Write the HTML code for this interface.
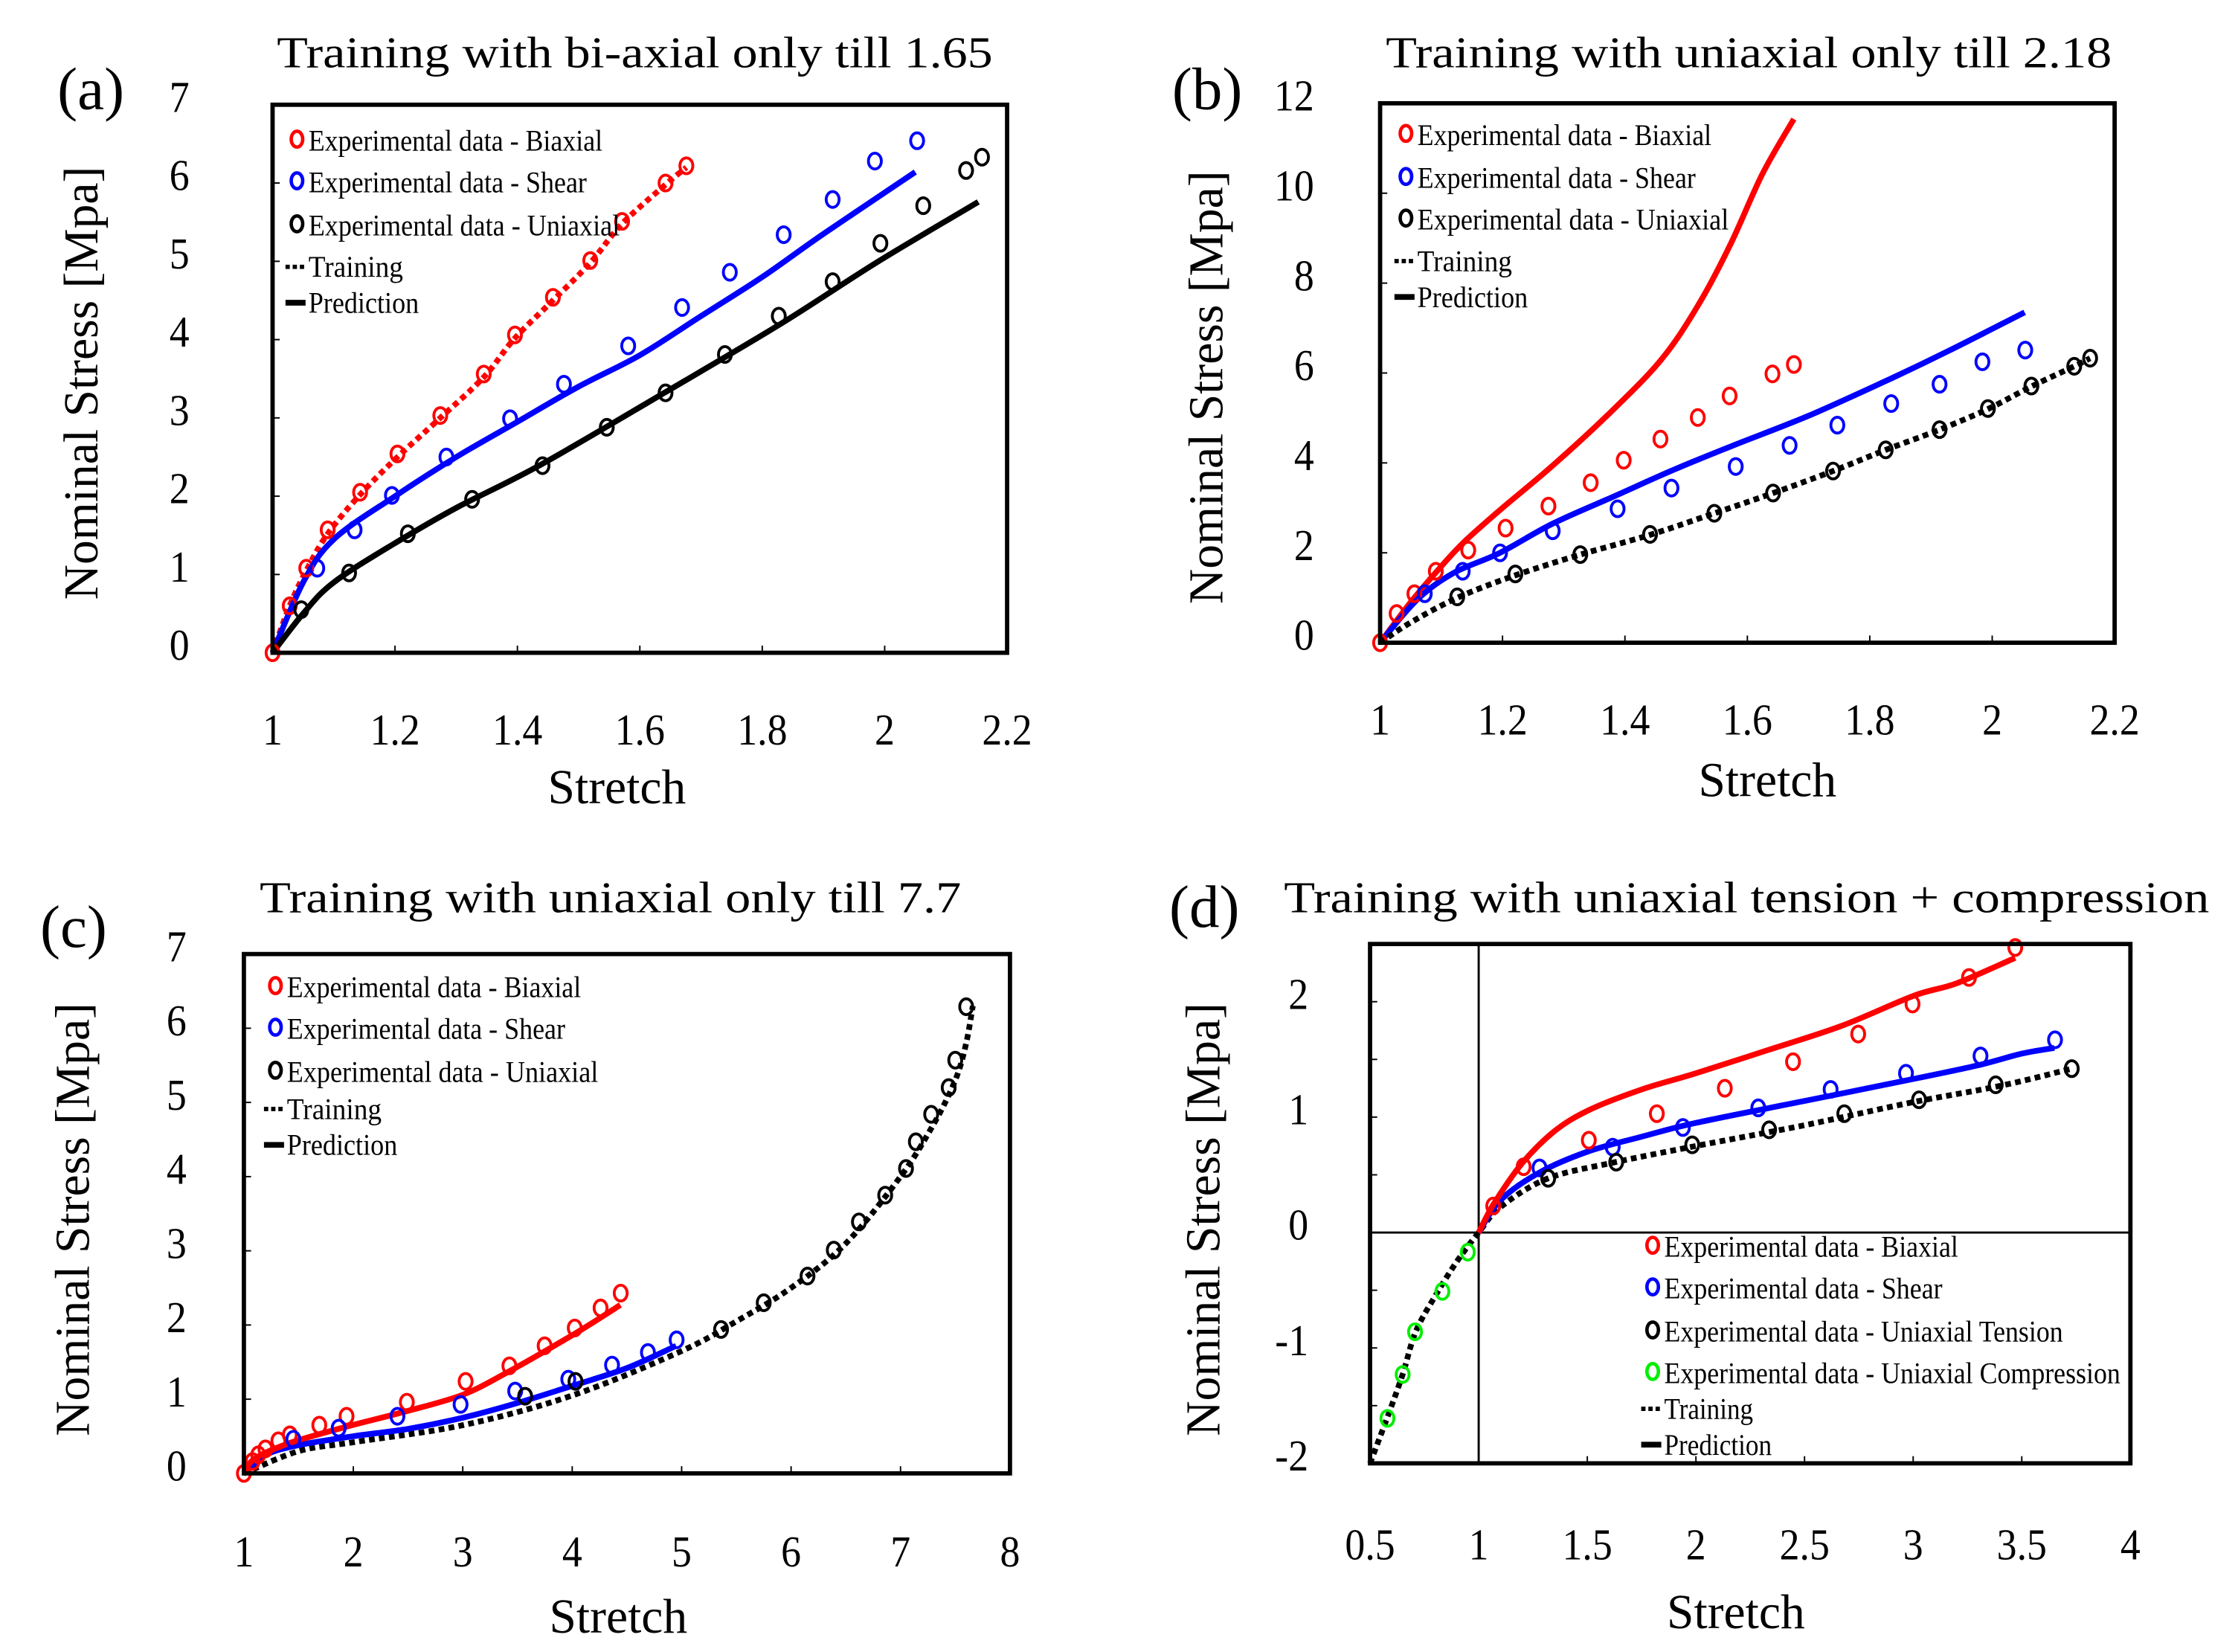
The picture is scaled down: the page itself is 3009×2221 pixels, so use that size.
<!DOCTYPE html>
<html><head><meta charset="utf-8"><style>
html,body{margin:0;padding:0;background:#fff;}
svg{display:block;font-family:"Liberation Serif",serif;}
</style></head><body>
<svg id="fig" width="3009" height="2221" viewBox="0 0 1560 1151.5" preserveAspectRatio="none" xmlns="http://www.w3.org/2000/svg"></svg>
<script>
// ---------- Panel (a) data ----------
const aBiaxX=[1,1.028,1.055,1.09,1.143,1.204,1.274,1.345,1.396,1.458,1.519,1.571,1.642,1.676];
const aBiaxY=[0,0.6,1.08,1.57,2.05,2.54,3.03,3.56,4.06,4.54,5.01,5.51,6.0,6.22];
const aShearX=[1.073,1.134,1.195,1.284,1.388,1.476,1.581,1.669,1.747,1.835,1.915,1.984,2.053];
const aShearY=[1.08,1.57,2.01,2.5,2.99,3.43,3.92,4.41,4.86,5.34,5.79,6.28,6.54];
const aUniX=[1.047,1.125,1.221,1.326,1.441,1.546,1.642,1.739,1.827,1.915,1.993,2.063,2.133,2.159];
const aUniY=[0.55,1.02,1.52,1.96,2.39,2.88,3.32,3.81,4.3,4.74,5.23,5.71,6.16,6.33];
const aBiaxTrainX=[1,1.028,1.055,1.09,1.143,1.204,1.274,1.345,1.396,1.458,1.519,1.571,1.642,1.676];
const aBiaxTrainY=[0,0.6,1.05,1.52,2.02,2.5,3.0,3.52,4.02,4.5,4.98,5.48,5.98,6.2];
const aShearPredX=[1,1.05,1.1,1.2,1.3,1.4,1.5,1.6,1.7,1.8,1.9,2.05];
const aShearPredY=[0,0.9,1.45,2.0,2.5,2.95,3.4,3.8,4.3,4.8,5.35,6.14];
const aUniPredX=[1,1.05,1.1,1.2,1.3,1.44,1.64,1.83,1.99,2.153];
const aUniPredY=[0,0.5,0.9,1.4,1.85,2.41,3.32,4.2,5.0,5.76];
const aXTicks=[1,1.2,1.4,1.6,1.8,2,2.2];
const aXTickLabels=["1","1.2","1.4","1.6","1.8","2","2.2"];
const aYTicks=[0,1,2,3,4,5,6,7];
const aYTickLabels=["0","1","2","3","4","5","6","7"];
// ---------- Panel (b) data ----------
const bBiaxX=[1,1.027,1.056,1.091,1.144,1.205,1.275,1.344,1.398,1.458,1.519,1.571,1.641,1.676];
const bBiaxY=[0,0.65,1.09,1.59,2.06,2.55,3.04,3.56,4.06,4.53,5.01,5.49,5.98,6.19];
const bShearX=[1.073,1.135,1.196,1.282,1.388,1.476,1.581,1.669,1.747,1.835,1.914,1.984,2.054];
const bShearY=[1.09,1.59,2.0,2.49,2.98,3.44,3.92,4.39,4.84,5.32,5.75,6.25,6.51];
const bUniX=[1.126,1.221,1.327,1.441,1.546,1.642,1.74,1.826,1.914,1.993,2.064,2.134,2.16];
const bUniY=[1.02,1.53,1.96,2.41,2.88,3.33,3.82,4.29,4.74,5.21,5.71,6.15,6.33];
const bBiaxPredX=[1,1.05,1.1,1.141,1.2,1.282,1.376,1.459,1.518,1.571,1.624,1.676];
const bBiaxPredY=[0,0.9,1.7,2.29,3.0,3.94,5.12,6.29,7.47,8.82,10.41,11.65];
const bShearPredX=[1,1.06,1.12,1.196,1.282,1.388,1.48,1.581,1.7,1.835,1.93,2.053];
const bShearPredY=[0,0.95,1.55,2.0,2.65,3.29,3.85,4.41,5.05,5.88,6.5,7.35];
const bUniTrainX=[1,1.05,1.126,1.221,1.327,1.441,1.546,1.642,1.74,1.826,1.914,1.993,2.064,2.134,2.16];
const bUniTrainY=[0,0.45,1.0,1.5,1.96,2.4,2.88,3.33,3.82,4.29,4.74,5.2,5.7,6.15,6.33];
const bXTicks=[1,1.2,1.4,1.6,1.8,2,2.2];
const bXTickLabels=["1","1.2","1.4","1.6","1.8","2","2.2"];
const bYTicks=[0,2,4,6,8,10,12];
const bYTickLabels=["0","2","4","6","8","10","12"];
// ---------- Panel (c) data ----------
const cBiaxX=[1,1.079,1.131,1.197,1.315,1.42,1.689,1.938,2.489,3.026,3.426,3.748,4.023,4.259,4.443];
const cBiaxY=[0,0.16,0.25,0.33,0.44,0.52,0.65,0.77,0.96,1.24,1.45,1.72,1.96,2.23,2.43];
const cShearX=[1.452,1.866,2.403,2.98,3.479,3.964,4.364,4.692,4.954];
const cShearY=[0.46,0.61,0.77,0.93,1.11,1.27,1.46,1.63,1.8];
const cUniX=[3.57,4.03,5.36,5.75,6.15,6.39,6.62,6.86,7.05,7.14,7.28,7.44,7.5,7.6];
const cUniY=[1.04,1.24,1.94,2.3,2.66,3.01,3.39,3.75,4.11,4.47,4.84,5.2,5.57,6.29];
const cBiaxPredX=[1,1.1,1.42,1.94,2.49,3.0,3.43,4.02,4.44];
const cBiaxPredY=[0,0.2,0.41,0.63,0.84,1.06,1.38,1.88,2.27];
const cShearPredX=[1,1.2,1.5,2,2.5,3,3.5,4,4.5,4.95];
const cShearPredY=[0,0.25,0.38,0.5,0.6,0.75,0.95,1.18,1.42,1.72];
const cUniTrainX=[1,1.5,2,3,4,5,5.5,6,6.5,7,7.3,7.5,7.6,7.66];
const cUniTrainY=[0,0.3,0.42,0.65,1.05,1.65,2.05,2.5,3.1,4.0,4.7,5.3,5.8,6.3];
const cXTicks=[1,2,3,4,5,6,7,8];
const cXTickLabels=["1","2","3","4","5","6","7","8"];
const cYTicks=[0,1,2,3,4,5,6,7];
const cYTickLabels=["0","1","2","3","4","5","6","7"];
// ---------- Panel (d) data ----------
const dBiaxX=[1.067,1.207,1.507,1.82,2.133,2.447,2.747,2.997,3.257,3.47];
const dBiaxY=[0.23,0.57,0.8,1.03,1.25,1.48,1.72,1.98,2.21,2.47];
const dShearX=[1.28,1.617,1.94,2.287,2.62,2.967,3.31,3.653];
const dShearY=[0.56,0.74,0.91,1.08,1.24,1.38,1.53,1.67];
const dUniX=[1.32,1.633,1.983,2.337,2.683,3.027,3.38,3.73];
const dUniY=[0.47,0.61,0.76,0.89,1.03,1.15,1.28,1.42];
const dCompX=[0.95,0.833,0.707,0.65,0.58];
const dCompY=[-0.17,-0.51,-0.86,-1.23,-1.61];
const dBiaxPredX=[1,1.07,1.2,1.35,1.507,1.75,2,2.33,2.67,3.0,3.2,3.47];
const dBiaxPredY=[0,0.25,0.6,0.88,1.06,1.24,1.38,1.58,1.79,2.05,2.16,2.38];
const dShearPredX=[1,1.1,1.28,1.5,1.75,2,2.5,3,3.3,3.5,3.65];
const dShearPredY=[0,0.28,0.52,0.7,0.83,0.95,1.14,1.33,1.45,1.55,1.6];
const dUniTrainX=[0.5,0.58,0.65,0.71,0.8,0.9,1,1.1,1.32,1.63,2,2.5,3,3.4,3.73];
const dUniTrainY=[-2.0,-1.6,-1.23,-0.86,-0.55,-0.25,0,0.22,0.47,0.61,0.75,0.93,1.13,1.27,1.42];
const dXTicks=[0.5,1,1.5,2,2.5,3,3.5,4];
const dXTickLabels=["0.5","1","1.5","2","2.5","3","3.5","4"];
const dYTicks=[-2,-1,0,1,2];
const dYTickLabels=["-2","-1","0","1","2"];

const NS="http://www.w3.org/2000/svg";
const svg=document.getElementById('fig');
function mk(tag,attrs,parent){const e=document.createElementNS(NS,tag);for(const k in attrs)e.setAttribute(k,attrs[k]);(parent||svg).appendChild(e);return e;}
function txt(s,attrs,parent){const e=mk('text',attrs,parent);e.textContent=s;return e;}
function smooth(pts){
  let d='M'+pts[0][0].toFixed(1)+','+pts[0][1].toFixed(1);
  for(let i=0;i<pts.length-1;i++){
    const p0=pts[Math.max(0,i-1)],p1=pts[i],p2=pts[i+1],p3=pts[Math.min(pts.length-1,i+2)];
    const c1=[p1[0]+(p2[0]-p0[0])/6,p1[1]+(p2[1]-p0[1])/6];
    const c2=[p2[0]-(p3[0]-p1[0])/6,p2[1]-(p3[1]-p1[1])/6];
    d+=' C'+c1.map(v=>v.toFixed(1)).join(',')+' '+c2.map(v=>v.toFixed(1)).join(',')+' '+p2.map(v=>v.toFixed(1)).join(',');
  }
  return d;
}

function panel(cfg){
  const g=mk('g',{});
  
  
  const X=v=>cfg.x0+(v-cfg.xmin)/(cfg.xmax-cfg.xmin)*(cfg.x1-cfg.x0);
  const Y=v=>cfg.y0-(v-cfg.ymin)/(cfg.ymax-cfg.ymin)*(cfg.y0-cfg.y1);
  const t=txt(cfg.title,{x:cfg.tx,y:cfg.ty,'font-size':31,textLength:cfg.tw,lengthAdjust:'spacingAndGlyphs'},g);
  
  
  const l=txt(cfg.letter,{x:cfg.lx,y:cfg.ly,'font-size':42},g);
  
  
  cfg.xticks.forEach((v,i)=>{
    mk('line',{x1:X(v),x2:X(v),y1:cfg.y0,y2:cfg.y0-5,stroke:'#000','stroke-width':1},g);
    const e=txt(cfg.xlabels[i],{x:0,y:0,'font-size':31,'text-anchor':'middle',transform:`translate(${X(v)},${cfg.xly}) scale(0.9,1)`},g);
    
    
  });
  cfg.yticks.forEach((v,i)=>{
    mk('line',{x1:cfg.x0,x2:cfg.x0+5,y1:Y(v),y2:Y(v),stroke:'#000','stroke-width':1},g);
    const e=txt(cfg.ylabels[i],{x:0,y:0,'font-size':31,'text-anchor':'end',transform:`translate(${cfg.ylx},${Y(v)+5}) scale(0.9,1)`},g);
    
    
  });
  if(cfg.minor){cfg.minor.forEach(v=>{mk('line',{x1:cfg.x0,x2:cfg.x0+5,y1:Y(v),y2:Y(v),stroke:'#000','stroke-width':1},g);});}
  const xt=txt('Stretch',{x:cfg.sx,y:cfg.sy,'font-size':34,'text-anchor':'middle'},g);
  
  
  const yt=txt('Nominal Stress [Mpa]',{x:0,y:0,'font-size':34,'text-anchor':'middle',transform:`translate(${cfg.ytx},${cfg.yty}) rotate(-90)`},g);
  
  
  if(cfg.zero){
    mk('line',{x1:cfg.x0,x2:cfg.x1,y1:Y(0),y2:Y(0),stroke:'#000','stroke-width':1.5},g);
    mk('line',{x1:X(1),x2:X(1),y1:cfg.y1,y2:cfg.y0,stroke:'#000','stroke-width':1.5},g);
  }
  cfg.lines.forEach(s=>{
    const pts=s.x.map((v,i)=>[X(v),Y(s.y[i])]);
    const e=mk('path',{d:smooth(pts),fill:'none',stroke:s.c,'stroke-width':4,'stroke-dasharray':s.dot?'4,3':'none','stroke-linejoin':'round'},g);
    
    
  });
  cfg.pts.forEach(s=>{
    s.x.forEach((v,i)=>{
      const e=mk('ellipse',{cx:X(v),cy:Y(s.y[i]),rx:4.5,ry:5.5,fill:'none',stroke:s.c,'stroke-width':2},g);
      
      
    });
  });
  mk('rect',{x:cfg.x0,y:cfg.y1,width:cfg.x1-cfg.x0,height:cfg.y0-cfg.y1,fill:'none',stroke:'#000','stroke-width':3},g);
  const lg=mk('g',{},g);
  
  
  cfg.legend.forEach((it,i)=>{
    const y=cfg.lgy[i];
    if(it.t==='m') mk('ellipse',{cx:cfg.lgx-8,cy:y-1,rx:4,ry:5.5,fill:'none',stroke:it.c,'stroke-width':2.4},lg);
    else mk('line',{x1:cfg.lgx-16,x2:cfg.lgx-2,y1:y,y2:y,stroke:'#000','stroke-width':it.t==='d'?3:4,'stroke-dasharray':it.t==='d'?'3,2':'none'},lg);
    const e=txt(it.s,{x:cfg.lgx,y:y+7,'font-size':21,textLength:it.w,lengthAdjust:'spacingAndGlyphs'},lg);
    
    
  });
}
const L3=()=>[
 {t:'m',c:'#f00',s:'Experimental data - Biaxial',w:205},
 {t:'m',c:'#00f',s:'Experimental data - Shear',w:194},
 {t:'m',c:'#000',s:'Experimental data - Uniaxial',w:217},
 {t:'d',s:'Training',w:66},{t:'s',s:'Prediction',w:77}];

panel({name:'panel-a',letter:'(a)',lx:40,ly:76,title:'Training with bi-axial only till 1.65',tx:193,ty:47,tw:499,
 x0:190,x1:702,y0:455,y1:73,xmin:1,xmax:2.2,ymin:0,ymax:7,
 xticks:aXTicks,xlabels:aXTickLabels,yticks:aYTicks,ylabels:aYTickLabels,xly:519,ylx:132,
 sx:430,sy:560,ytx:68,yty:267,
 lines:[{x:aBiaxTrainX,y:aBiaxTrainY,c:'#f00',dot:true,n:'biaxial-training-line'},
        {x:aShearPredX,y:aShearPredY,c:'#00f',n:'shear-prediction-line'},
        {x:aUniPredX,y:aUniPredY,c:'#000',n:'uniaxial-prediction-line'}],
 pts:[{x:aBiaxX,y:aBiaxY,c:'#f00',n:'biaxial-point'},{x:aShearX,y:aShearY,c:'#00f',n:'shear-point'},{x:aUniX,y:aUniY,c:'#000',n:'uniaxial-point'}],
 legend:L3(),lgx:215,lgy:[98,127,157,186,211]});

panel({name:'panel-b',letter:'(b)',lx:817,ly:76,title:'Training with uniaxial only till 2.18',tx:966,ty:47,tw:506,
 x0:962,x1:1474,y0:448,y1:72,xmin:1,xmax:2.2,ymin:0,ymax:12,
 xticks:bXTicks,xlabels:bXTickLabels,yticks:bYTicks,ylabels:bYTickLabels,xly:512,ylx:916,
 sx:1232,sy:555,ytx:852,yty:270,
 lines:[{x:bBiaxPredX,y:bBiaxPredY,c:'#f00',n:'biaxial-prediction-line'},
        {x:bShearPredX,y:bShearPredY,c:'#00f',n:'shear-prediction-line'},
        {x:bUniTrainX,y:bUniTrainY,c:'#000',dot:true,n:'uniaxial-training-line'}],
 pts:[{x:bBiaxX,y:bBiaxY,c:'#f00',n:'biaxial-point'},{x:bShearX,y:bShearY,c:'#00f',n:'shear-point'},{x:bUniX,y:bUniY,c:'#000',n:'uniaxial-point'}],
 legend:L3(),lgx:988,lgy:[94,124,153,182,207]});

panel({name:'panel-c',letter:'(c)',lx:28,ly:660,title:'Training with uniaxial only till 7.7',tx:181,ty:636,tw:489,
 x0:170,x1:704,y0:1027,y1:665,xmin:1,xmax:8,ymin:0,ymax:7,
 xticks:cXTicks,xlabels:cXTickLabels,yticks:cYTicks,ylabels:cYTickLabels,xly:1092,ylx:130,
 sx:431,sy:1138,ytx:62,yty:850,
 lines:[{x:cUniTrainX,y:cUniTrainY,c:'#000',dot:true,n:'uniaxial-training-line'},
        {x:cShearPredX,y:cShearPredY,c:'#00f',n:'shear-prediction-line'},
        {x:cBiaxPredX,y:cBiaxPredY,c:'#f00',n:'biaxial-prediction-line'}],
 pts:[{x:cBiaxX,y:cBiaxY,c:'#f00',n:'biaxial-point'},{x:cShearX,y:cShearY,c:'#00f',n:'shear-point'},{x:cUniX,y:cUniY,c:'#000',n:'uniaxial-point'}],
 legend:L3(),lgx:200,lgy:[688,717,747,773,798]});

panel({name:'panel-d',letter:'(d)',lx:815,ly:646,title:'Training with uniaxial tension + compression',tx:895,ty:636,tw:645,
 x0:955,x1:1485,y0:1020,y1:658,xmin:0.5,xmax:4,ymin:-2,ymax:2.5,minor:[-1.5,-0.5,0.5,1.5],zero:true,
 xticks:dXTicks,xlabels:dXTickLabels,yticks:dYTicks,ylabels:dYTickLabels,xly:1087,ylx:912,
 sx:1210,sy:1135,ytx:850,yty:850,
 lines:[{x:dUniTrainX,y:dUniTrainY,c:'#000',dot:true,n:'uniaxial-training-line'},
        {x:dShearPredX,y:dShearPredY,c:'#00f',n:'shear-prediction-line'},
        {x:dBiaxPredX,y:dBiaxPredY,c:'#f00',n:'biaxial-prediction-line'}],
 pts:[{x:dBiaxX,y:dBiaxY,c:'#f00',n:'biaxial-point'},{x:dShearX,y:dShearY,c:'#00f',n:'shear-point'},{x:dUniX,y:dUniY,c:'#000',n:'uniaxial-tension-point'},{x:dCompX,y:dCompY,c:'#0e0',n:'uniaxial-compression-point'}],
 legend:[{t:'m',c:'#f00',s:'Experimental data - Biaxial',w:205},
  {t:'m',c:'#00f',s:'Experimental data - Shear',w:194},
  {t:'m',c:'#000',s:'Experimental data - Uniaxial Tension',w:278},
  {t:'m',c:'#0e0',s:'Experimental data - Uniaxial Compression',w:318},
  {t:'d',s:'Training',w:62},{t:'s',s:'Prediction',w:75}],
 lgx:1160,lgy:[869,898,928,957,982,1007]});
</script>
</body></html>
